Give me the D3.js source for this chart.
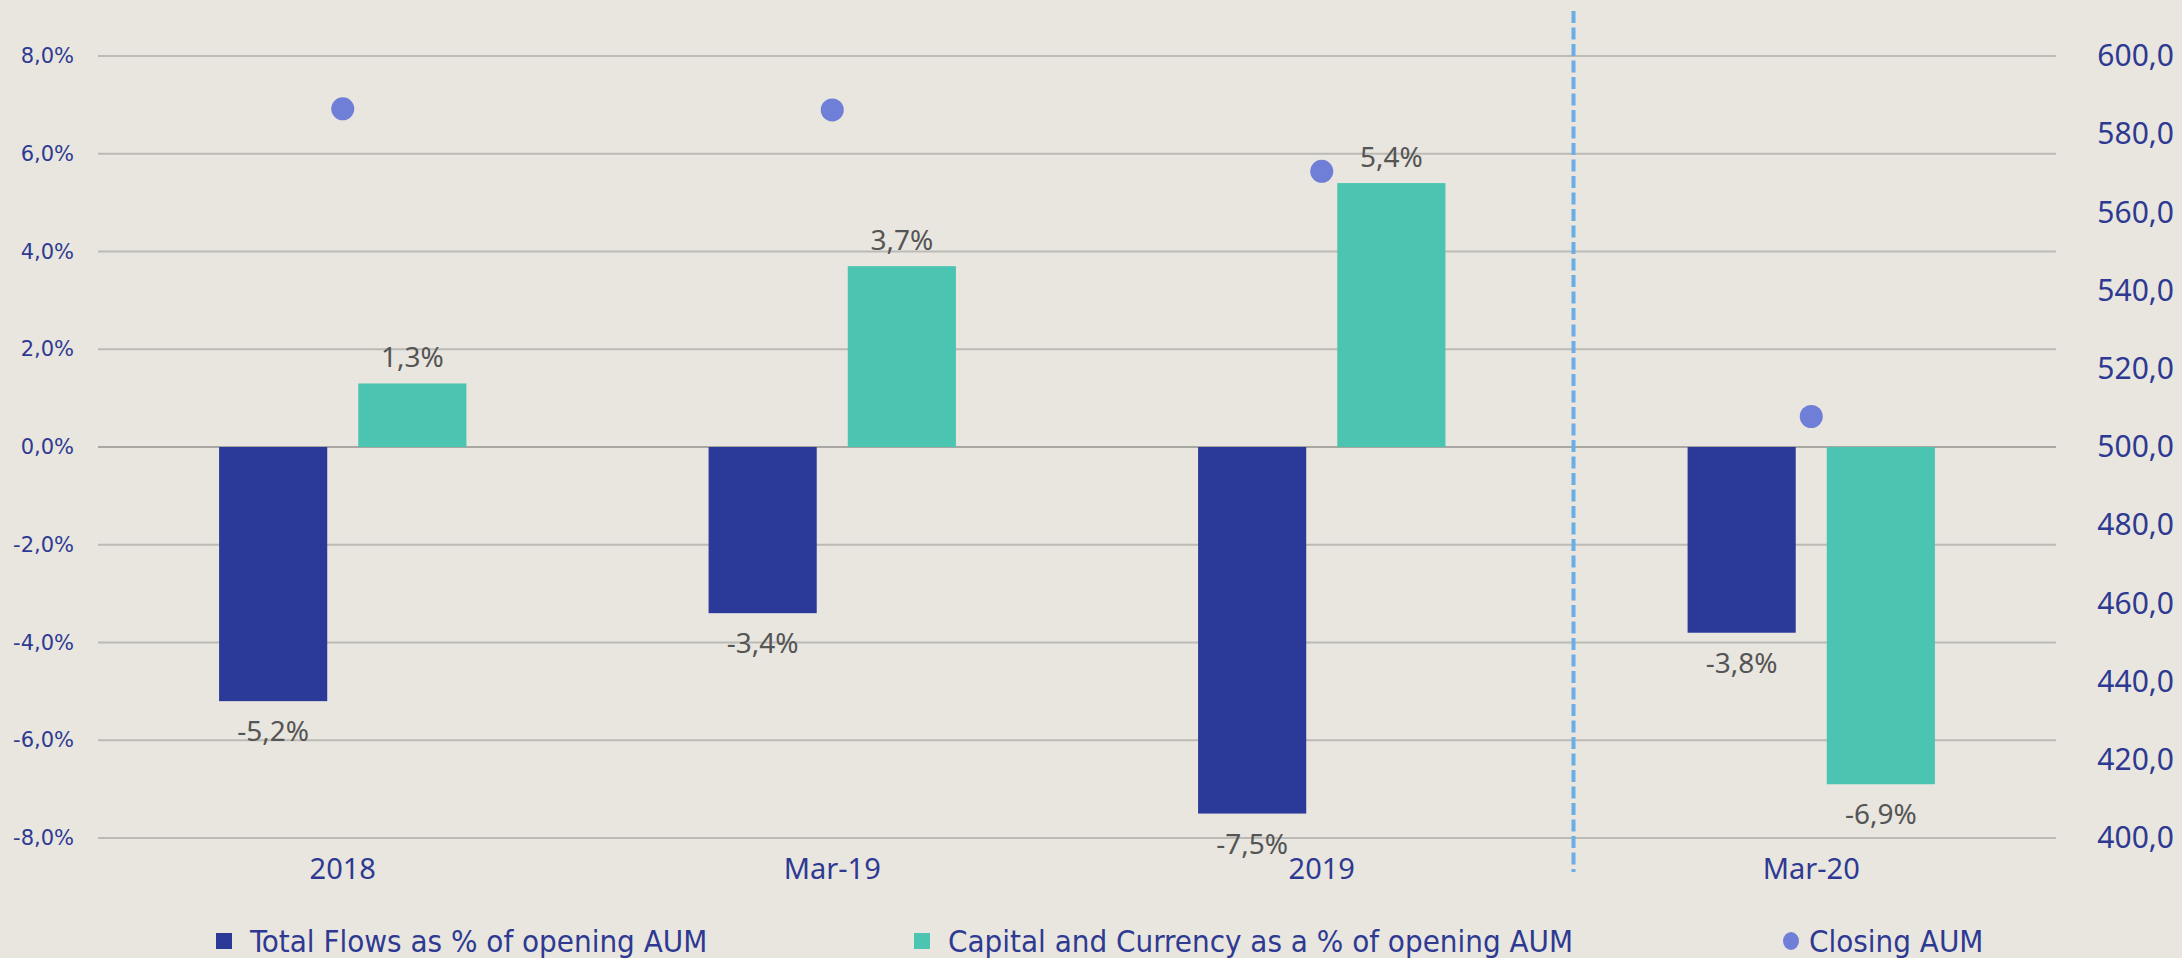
<!DOCTYPE html>
<html>
<head>
<meta charset="utf-8">
<script src="https://cdn.jsdelivr.net/npm/d3@7"></script>
<style>
  html, body { margin: 0; padding: 0; background: #E9E6E0; }
  svg { display: block; }
</style>
</head>
<body>
<div id="chart"></div>
<script>
// data
var categories = ["2018", "Mar-19", "2019", "Mar-20"];
var seriesNames = ["Total Flows as % of opening AUM", "Capital and Currency as a % of opening AUM"];
var totalFlows = [-5.2, -3.4, -7.5, -3.8];
var capitalCurrency = [1.3, 3.7, 5.4, -6.9];
var closingAUM = [586.5, 586.2, 570.5, 507.8];
var leftTicks = [-8, -6, -4, -2, 0, 2, 4, 6, 8];
var rightTicks = [400, 420, 440, 460, 480, 500, 520, 540, 560, 580, 600];

var W = 2182, H = 958;
var plotLeft = 98, plotRight = 2056, plotTop = 56, plotBottom = 838;

var navy = "#2B3A98", teal = "#4BC5B1", dotColor = "#6F7ED6", axisText = "#2E3A92";

// comma decimals, plain hyphen for negatives
var locale = d3.formatLocale({ decimal: ",", thousands: ".", grouping: [3], currency: ["", ""], minus: "-" });
var f1 = locale.format(".1f");

var svg = d3.select("#chart").append("svg")
  .attr("width", W)
  .attr("height", H);

svg.append("rect").attr("width", W).attr("height", H).attr("fill", "#E9E6E0");

// scales
var x0 = d3.scaleBand().domain(categories).range([plotLeft, plotRight]);
var x1 = d3.scaleBand().domain([0, 1]).range([0, x0.bandwidth()]).paddingInner(0.223).paddingOuter(0.87);
var y = d3.scaleLinear().domain([-8, 8]).range([plotBottom, plotTop]);
var y2 = d3.scaleLinear().domain([400, 600]).range([plotBottom, plotTop]);

// gridlines
svg.append("g")
  .selectAll("line")
  .data(leftTicks)
  .enter()
  .append("line")
  .attr("x1", plotLeft).attr("x2", plotRight)
  .attr("y1", function (d) { return y(d); })
  .attr("y2", function (d) { return y(d); })
  .attr("stroke", function (d) { return d === 0 ? "#A9A7A2" : "#BCBAB5"; })
  .attr("stroke-width", 2);

// left axis
var yAxis = d3.axisLeft(y).tickValues(leftTicks).tickSize(0).tickPadding(24)
  .tickFormat(function (d) { return f1(d) + "%"; });
svg.append("g")
  .attr("transform", "translate(" + plotLeft + ",0)")
  .call(yAxis)
  .call(function (g) { g.select(".domain").remove(); })
  .selectAll("text")
  .attr("fill", axisText)
  .style("font-family", "'DejaVu Sans', Verdana, sans-serif")
  .style("font-size", "21px");

// right axis
var yAxis2 = d3.axisRight(y2).tickValues(rightTicks).tickSize(0).tickPadding(0)
  .tickFormat(function (d) { return f1(d); });
svg.append("g")
  .attr("transform", "translate(2174,0)")
  .call(yAxis2)
  .call(function (g) { g.select(".domain").remove(); })
  .selectAll("text")
  .attr("text-anchor", "end")
  .attr("x", 0)
  .attr("fill", axisText)
  .style("font-family", "'Noto Sans', sans-serif")
  .style("font-size", "30px");

// category labels
svg.append("g")
  .selectAll("text")
  .data(categories)
  .enter()
  .append("text")
  .attr("x", function (d) { return x0(d) + x0.bandwidth() / 2; })
  .attr("y", 879)
  .attr("text-anchor", "middle")
  .attr("fill", axisText)
  .style("font-family", "'Noto Sans', sans-serif")
  .style("font-size", "29px")
  .text(function (d) { return d; });

// bars
var rows = categories.map(function (c, i) {
  return { cat: c, vals: [totalFlows[i], capitalCurrency[i]] };
});
var colors = [navy, teal];

var groups = svg.selectAll(".grp")
  .data(rows)
  .enter()
  .append("g")
  .attr("class", "grp")
  .attr("transform", function (d) { return "translate(" + x0(d.cat) + ",0)"; });

groups.selectAll("rect")
  .data(function (d) { return d.vals.map(function (v, k) { return { k: k, v: v }; }); })
  .enter()
  .append("rect")
  .attr("x", function (d) { return x1(d.k); })
  .attr("width", x1.bandwidth())
  .attr("y", function (d) { return y(Math.max(0, d.v)); })
  .attr("height", function (d) { return Math.abs(y(d.v) - y(0)); })
  .attr("fill", function (d) { return colors[d.k]; });

// data labels
groups.selectAll(".lbl")
  .data(function (d) { return d.vals.map(function (v, k) { return { k: k, v: v }; }); })
  .enter()
  .append("text")
  .attr("class", "lbl")
  .attr("x", function (d) { return x1(d.k) + x1.bandwidth() / 2; })
  .attr("y", function (d) { return d.v >= 0 ? y(d.v) - 16 : y(d.v) + 40; })
  .attr("text-anchor", "middle")
  .attr("fill", "#555555")
  .style("font-family", "'Noto Sans', sans-serif")
  .style("font-size", "28px")
  .text(function (d) { return f1(d.v) + "%"; });

// closing AUM dots
svg.append("g")
  .selectAll("circle")
  .data(closingAUM)
  .enter()
  .append("circle")
  .attr("cx", function (d, i) { return x0(categories[i]) + x0.bandwidth() / 2; })
  .attr("cy", function (d) { return y2(d); })
  .attr("r", 11.5)
  .attr("fill", dotColor);

// dashed separator before Mar-20
var sepX = x0("Mar-20") + 7;
svg.append("line")
  .attr("x1", sepX).attr("x2", sepX)
  .attr("y1", 11).attr("y2", 872)
  .attr("stroke", "#6AAEE6")
  .attr("stroke-width", 4)
  .attr("stroke-dasharray", "12,4.5");

// legend
var legendItems = [
  { name: seriesNames[0], type: "rect", color: navy, x: 216 },
  { name: seriesNames[1], type: "rect", color: teal, x: 914 },
  { name: "Closing AUM", type: "circle", color: dotColor, x: 1791 }
];
var leg = svg.selectAll(".leg")
  .data(legendItems)
  .enter()
  .append("g")
  .attr("class", "leg")
  .attr("transform", function (d) { return "translate(" + d.x + ",941)"; });

leg.filter(function (d) { return d.type === "rect"; })
  .append("rect")
  .attr("x", 0).attr("y", -8)
  .attr("width", 16).attr("height", 16)
  .attr("fill", function (d) { return d.color; });

leg.filter(function (d) { return d.type === "circle"; })
  .append("ellipse")
  .attr("cx", 0).attr("cy", 0)
  .attr("rx", 8).attr("ry", 9)
  .attr("fill", function (d) { return d.color; });

leg.append("text")
  .attr("x", function (d) { return d.type === "rect" ? 34 : 18; })
  .attr("y", 11)
  .attr("fill", axisText)
  .style("font-family", "'Liberation Sans Narrow', 'DejaVu Sans Condensed', sans-serif")
  .style("font-size", "31px")
  .text(function (d) { return d.name; });
</script>
</body>
</html>
